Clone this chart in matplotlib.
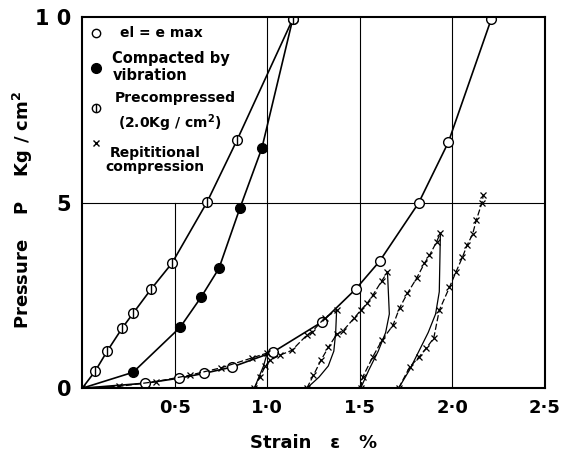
import matplotlib
matplotlib.use("Agg")
from matplotlib import pyplot as plt

# el = e max (open circles)
emax_x = [0.0, 0.34, 0.523, 0.658, 0.809, 1.03, 1.294, 1.478, 1.607, 1.818, 1.979, 2.211]
emax_y = [0.0, 0.135, 0.27, 0.40, 0.57, 0.97, 1.78, 2.67, 3.42, 4.99, 6.63, 9.95]

# compacted by vibration (filled circles)
vib_x = [0.0, 0.275, 0.529, 0.642, 0.739, 0.852, 0.971, 1.138]
vib_y = [0.0, 0.43, 1.64, 2.45, 3.23, 4.85, 6.47, 9.95]

# precompressed 2.0 kg/cm2 (half circles)
pre_x = [0.0, 0.070, 0.135, 0.216, 0.275, 0.372, 0.485, 0.674, 0.836, 1.138]
pre_y = [0.0, 0.46, 1.00, 1.62, 2.02, 2.67, 3.37, 5.01, 6.68, 9.95]

# repititional compression: loading branches (x marks) and unloading branches
load_x = [
    [0.0, 0.2, 0.4, 0.58, 0.75, 0.92, 1.0],
    [0.93, 0.96, 0.99, 1.014, 1.068, 1.133, 1.214, 1.24, 1.31, 1.375],
    [1.214, 1.25, 1.29, 1.33, 1.375, 1.41, 1.47, 1.505, 1.54, 1.57, 1.62, 1.65],
    [1.505, 1.516, 1.57, 1.62, 1.68, 1.715, 1.758, 1.807, 1.85, 1.877, 1.915, 1.936],
    [1.71, 1.77, 1.82, 1.86, 1.90, 1.93, 1.985, 2.02, 2.055, 2.08, 2.11, 2.13, 2.16, 2.168],
]
load_y = [
    [0.0, 0.05, 0.18, 0.35, 0.55, 0.82, 0.95],
    [0.0, 0.3, 0.6, 0.75, 0.89, 1.02, 1.43, 1.51, 1.89, 2.10],
    [0.0, 0.35, 0.75, 1.1, 1.45, 1.55, 1.89, 2.10, 2.29, 2.5, 2.9, 3.13],
    [0.0, 0.30, 0.84, 1.29, 1.70, 2.16, 2.56, 2.96, 3.37, 3.58, 3.94, 4.18],
    [0.0, 0.57, 0.84, 1.08, 1.35, 2.10, 2.72, 3.13, 3.53, 3.85, 4.15, 4.53, 4.99, 5.20],
]
unload_x = [
    [1.0, 0.98, 0.955, 0.93],
    [1.375, 1.37, 1.36, 1.33, 1.28, 1.214],
    [1.65, 1.66, 1.64, 1.60, 1.55, 1.505],
    [1.936, 1.93, 1.91, 1.87, 1.82, 1.77, 1.71],
]
unload_y = [
    [0.95, 0.6, 0.3, 0.0],
    [2.10, 1.5, 1.0, 0.6, 0.3, 0.0],
    [3.13, 2.0, 1.5, 1.0, 0.5, 0.0],
    [4.18, 2.6, 2.0, 1.5, 1.0, 0.5, 0.0],
]

xticks = [0.5, 1.0, 1.5, 2.0, 2.5]
xticklabels = ['0·5', '1·0', '1·5', '2·0', '2·5']
yticks = [0, 5, 10]
yticklabels = ['0', '5', '1 0']

plt.rcParams['font.family'] = 'DejaVu Sans'
plt.rcParams['font.weight'] = 'bold'

fig = plt.figure(figsize=(5.71, 4.53), dpi=100)
ax = fig.add_axes([0.144, 0.143, 0.81, 0.819])
ax.set_xlim(0, 2.5)
ax.set_ylim(0, 10)

# grid, 0.5 line hidden behind the legend area
ax.axvline(0.5, ymax=0.5, color='k', lw=0.8)
for gx in [1.0, 1.5, 2.0]:
    ax.axvline(gx, color='k', lw=0.8)
ax.axhline(5, color='k', lw=0.8)

ax.plot(emax_x, emax_y, color='k', lw=1.2, marker='o', ms=7,
        mfc='white', mec='k', mew=1.0, markevery=list(range(1, len(emax_x))))
ax.plot(vib_x, vib_y, color='k', lw=1.2, marker='o', ms=7,
        mfc='k', mec='k', markevery=list(range(1, len(vib_x))))
ax.plot(pre_x, pre_y, color='k', lw=1.2, marker='o', ms=7,
        mfc='white', mec='k', mew=1.0, markevery=list(range(1, len(pre_x))))
ax.plot(pre_x[1:], pre_y[1:], ls='none', marker='|', ms=7, mec='k', mew=1.0)

for lx, ly in zip(load_x, load_y):
    ax.plot(lx, ly, color='k', lw=0.9, ls=(0, (5, 2)), marker='x', ms=4, mew=0.9)
for ux, uy in zip(unload_x, unload_y):
    ax.plot(ux, uy, color='k', lw=0.9)

# legend drawn by hand in the upper left box
tr = ax.transAxes
ax.plot([0.03], [0.957], transform=tr, marker='o', ms=6, mfc='white', mec='k', ls='none')
ax.plot([0.03], [0.863], transform=tr, marker='o', ms=7, mfc='k', mec='k', ls='none')
ax.plot([0.03], [0.755], transform=tr, marker='o', ms=6, mfc='white', mec='k', ls='none')
ax.plot([0.03], [0.755], transform=tr, marker='|', ms=6, mec='k', ls='none')
ax.plot([0.03], [0.660], transform=tr, marker='x', ms=5, mec='k', mew=1.0, ls='none')
ax.text(0.082, 0.957, 'el = e max', transform=tr, fontsize=10, va='center')
ax.text(0.065, 0.889, 'Compacted by', transform=tr, fontsize=10.5, va='center')
ax.text(0.065, 0.844, 'vibration', transform=tr, fontsize=10.5, va='center')
ax.text(0.071, 0.782, 'Precompressed', transform=tr, fontsize=10, va='center')
ax.text(0.078, 0.714, '(2.0Kg / cm$^{\\mathbf{2}}$)', transform=tr, fontsize=10, va='center')
ax.text(0.158, 0.633, 'Repititional', transform=tr, fontsize=10, va='center', ha='center')
ax.text(0.158, 0.596, 'compression', transform=tr, fontsize=10, va='center', ha='center')

ax.set_xticks(xticks)
ax.set_xticklabels(xticklabels, fontsize=13, fontweight='bold')
ax.set_yticks(yticks)
ax.set_yticklabels(yticklabels, fontsize=15, fontweight='bold')
ax.tick_params(length=0, pad=8)
for s in ax.spines.values():
    s.set_linewidth(1.5)

ax.set_xlabel('Strain   ε   %', fontsize=13, fontweight='bold', labelpad=12)
ax.set_ylabel('Pressure    P    Kg / cm$^{\\mathbf{2}}$', fontsize=13, fontweight='bold')
ax.yaxis.set_label_coords(-0.102, 0.48)

fig.savefig('out.png', dpi=100)
